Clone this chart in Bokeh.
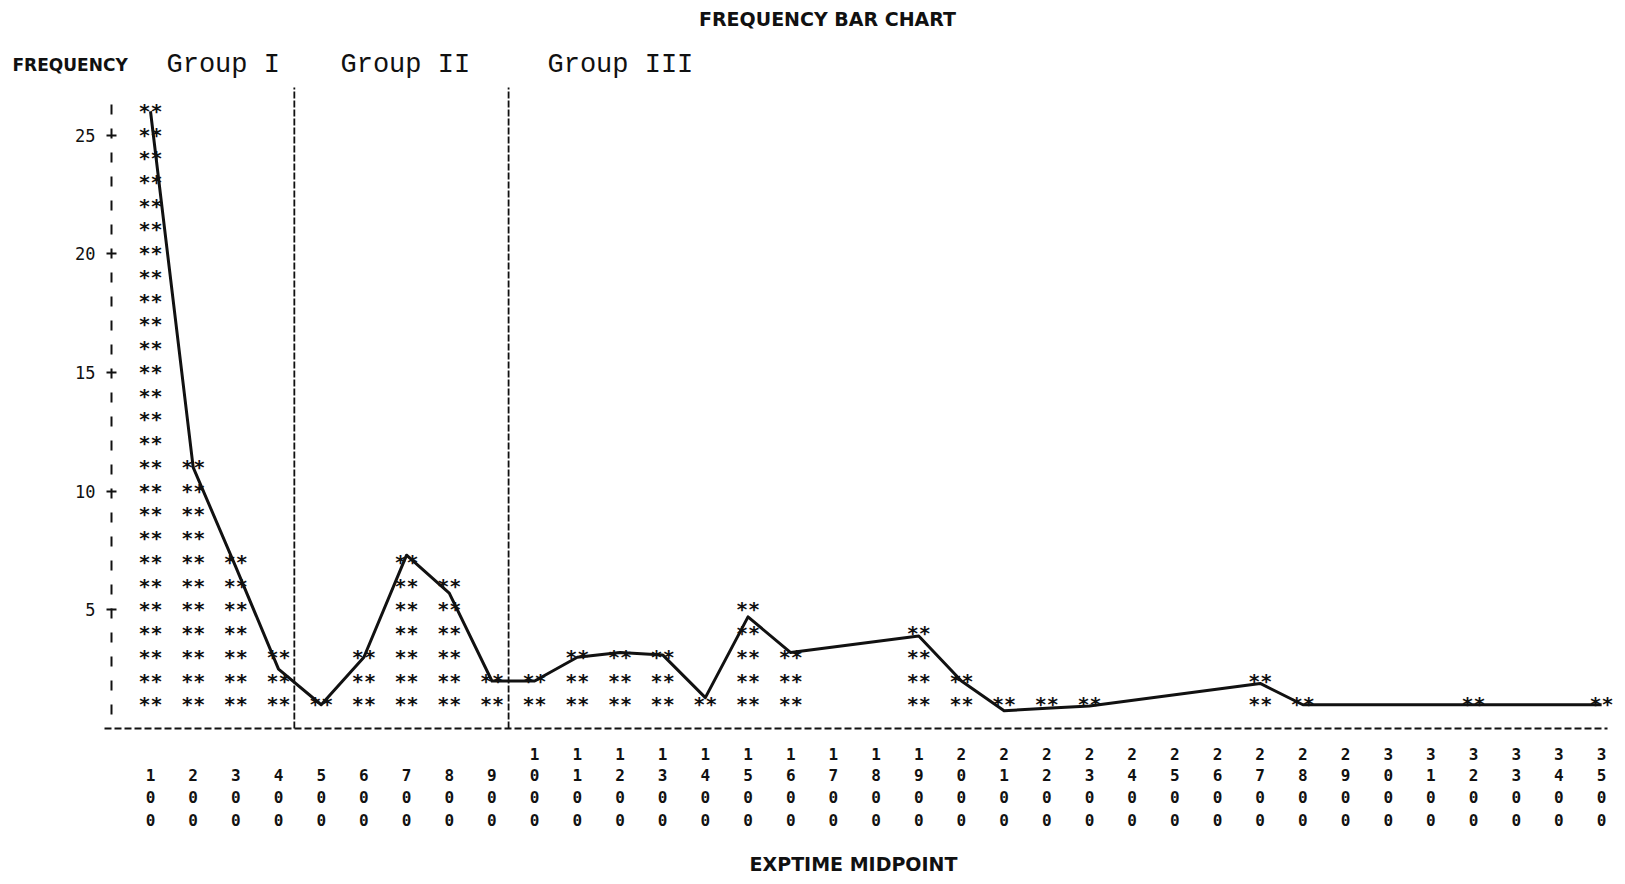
from bokeh.plotting import figure
from bokeh.models import Range1d, FixedTicker
from bokeh.core.properties import value
from bokeh.embed import file_html
from bokeh.resources import INLINE

# ---------------- data ----------------
midpoints = [100, 200, 300, 400, 500, 600, 700, 800, 900, 1000,
             1100, 1200, 1300, 1400, 1500, 1600, 1700, 1800, 1900, 2000,
             2100, 2200, 2300, 2400, 2500, 2600, 2700, 2800, 2900, 3000,
             3100, 3200, 3300, 3400, 3500]
frequency = [26, 11, 7, 3, 1, 3, 7, 6, 2, 2,
             3, 3, 3, 1, 5, 3, 0, 0, 4, 2,
             1, 1, 1, 0, 0, 0, 2, 1, 0, 0,
             0, 1, 0, 0, 1]
# hand-drawn curve over the bars
curve_x = [100, 200, 300, 400, 500, 600, 700, 800, 900, 1000, 1100, 1200, 1300,
           1400, 1500, 1600, 1900, 2000, 2100, 2200, 2300, 2700, 2800, 3200, 3500]
curve_y = [26, 11, 6.8, 2.5, 1, 3, 7.3, 5.7, 2, 2, 3, 3.2, 3.1,
           1.3, 4.7, 3.2, 3.9, 2, 0.75, 0.85, 0.95, 1.9, 1, 1, 1]
y_ticks = [5, 10, 15, 20, 25]
group_names = ["Group I", "Group II", "Group III"]
group_bounds = [437, 939]
title_text = "FREQUENCY BAR CHART"
x_title = "EXPTIME MIDPOINT"
y_title = "FREQUENCY"

MONO = "DejaVu Sans Mono"
PRINT = "DejaVu Sans"
TYPE = "Liberation Mono"
INK = "#111111"

# ---------------- layout: the frame covers the whole canvas ----------------
W, H = 1617, 876
PX_PER_X = 0.4268      # pixels per data unit on x
PX_PER_Y = 23.74       # pixels per unit of frequency
X_ANCHOR, XPIX = 100, 150.0   # midpoint 100 sits 150 px from the left
YPIX0 = 728.0                 # frequency 0 sits 728 px from the top


def dx(px):   # px (from left) -> data x
    return X_ANCHOR + (px - XPIX) / PX_PER_X


def dy(px):   # px (from top) -> data y
    return (YPIX0 - px) / PX_PER_Y


p = figure(width=W, height=H, output_backend="svg", toolbar_location=None,
           x_range=Range1d(dx(0), dx(W)), y_range=Range1d(dy(H), dy(0)),
           min_border=0, min_border_left=0, min_border_right=0,
           min_border_top=0, min_border_bottom=0,
           background_fill_color="white", border_fill_color="white",
           outline_line_color=None)
p.grid.visible = False

# y axis: dashed line with "+" ticks, fixed inside the frame
ya = p.yaxis[0]
ya.fixed_location = dx(111)
ya.ticker = FixedTicker(ticks=y_ticks)
ya.bounds = (0.6, 26.4)
ya.axis_line_dash = "10 14"
ya.axis_line_width = 2
ya.axis_line_color = INK
ya.major_tick_in = 5
ya.major_tick_out = 5
ya.major_tick_line_width = 2
ya.major_tick_line_color = INK
ya.minor_tick_line_color = None
ya.major_label_standoff = 11
ya.major_label_text_font = MONO
ya.major_label_text_font_size = "17px"
ya.major_label_text_color = INK

# x axis: dashed base line at frequency 0
xa = p.xaxis[0]
xa.fixed_location = 0
xa.ticker = FixedTicker(ticks=[])
xa.bounds = (dx(104), dx(1607))
xa.axis_line_dash = "7 3"
xa.axis_line_width = 2
xa.axis_line_color = INK
xa.major_tick_line_color = None
xa.minor_tick_line_color = None
xa.major_label_text_font_size = "0px"

# bars as stacks of "**"
sx, sy = [], []
for m, f in zip(midpoints, frequency):
    for k in range(1, f + 1):
        sx.append(m)
        sy.append(k + 0.02)
p.text(x=sx, y=sy, text=["**"] * len(sx), text_font=value(MONO),
       text_font_style="bold", text_font_size="20px", text_align="center",
       text_baseline="alphabetic", text_color=INK)

# hand-drawn curve
p.line(curve_x, curve_y, line_width=3, line_color=INK, line_join="round")

# group dividers
p.segment(x0=group_bounds, y0=[0, 0], x1=group_bounds, y1=[27, 27],
          line_dash="7 2", line_width=1.8, line_color=INK)

# group names
p.text(x=[dx(166), dx(340), dx(547)], y=[dy(64)] * 3, text=group_names,
       text_font=value(TYPE), text_font_size="27px", text_baseline="middle",
       text_align="left", text_color=INK)

# titles
p.text(x=[dx(827)], y=[dy(18)], text=[title_text], text_font=value(PRINT),
       text_font_size="19px", text_font_style="bold", text_align="center",
       text_baseline="middle", text_color=INK)
p.text(x=[dx(12)], y=[dy(64)], text=[y_title], text_font=value(PRINT),
       text_font_size="17px", text_font_style="bold", text_align="left",
       text_baseline="middle", text_color=INK)
p.text(x=[dx(853)], y=[dy(863)], text=[x_title], text_font=value(PRINT),
       text_font_size="19px", text_font_style="bold", text_align="center",
       text_baseline="middle", text_color=INK)

# vertical digit tick labels (one printed digit per line)
row_px = [753, 774, 796, 819]
for r, rp in enumerate(row_px):
    xs, ts = [], []
    for m in midpoints:
        ch = str(m).rjust(4)[r]
        if ch != " ":
            xs.append(m)
            ts.append(ch)
    p.text(x=xs, y=[dy(rp)] * len(xs), text=ts, text_font=value(MONO),
           text_font_style="bold", text_font_size="16px", text_align="center",
           text_baseline="middle", text_color=INK)

open("out.html", "w").write(file_html(p, INLINE))
